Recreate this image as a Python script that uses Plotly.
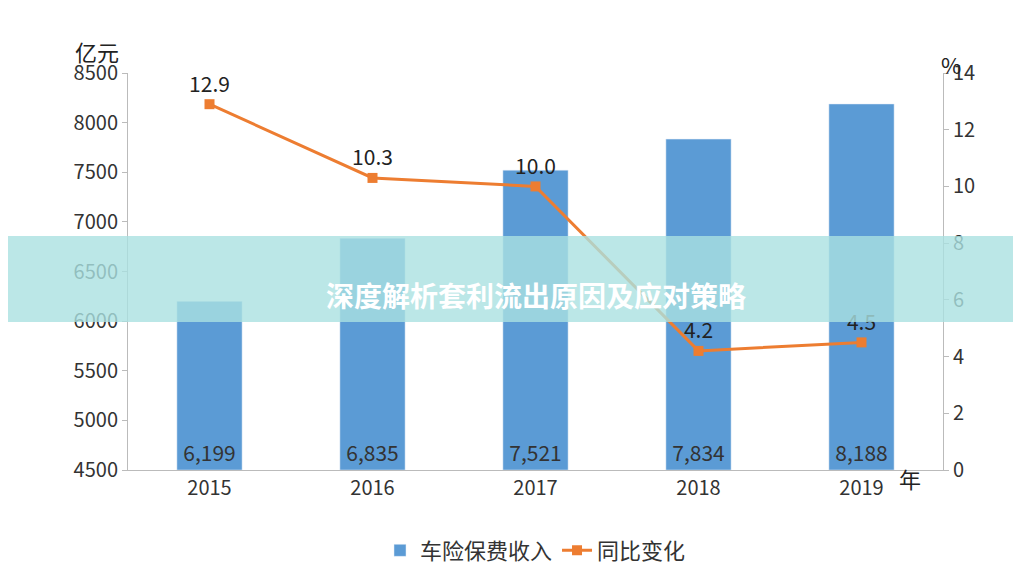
import plotly.graph_objects as go

years = ['2015', '2016', '2017', '2018', '2019']
premium = [6199, 6835, 7521, 7834, 8188]
premium_labels = ['6,199', '6,835', '7,521', '7,834', '8,188']
growth = [12.9, 10.3, 10.0, 4.2, 4.5]
growth_labels = ['12.9', '10.3', '10.0', '4.2', '4.5']
axis_base = 4500

font = "Noto Sans CJK SC, Noto Sans, sans-serif"

fig = go.Figure()
fig.add_trace(go.Bar(
    x=years, y=[p - axis_base for p in premium], base=axis_base,
    name='车险保费收入', marker_color='#5B9BD5',
    width=0.4, text=premium_labels, textposition='inside',
    insidetextanchor='start', textfont=dict(size=21, color='#333'),
    yaxis='y'))
fig.add_trace(go.Scatter(
    x=years, y=growth, name='同比变化', mode='lines+markers+text',
    line=dict(color='#ED7D31', width=3),
    marker=dict(symbol='square', size=10, color='#ED7D31'),
    text=growth_labels, textposition='top center',
    textfont=dict(size=21, color='#222'), yaxis='y2'))

L, R, T, B = 120, 86, 65, 106
fig.update_layout(
    width=1021, height=568,
    margin=dict(l=L, r=R, t=T, b=B, autoexpand=False),
    paper_bgcolor='white', plot_bgcolor='white',
    font=dict(family=font, size=20, color='#333'),
    xaxis=dict(showline=True, linecolor='#bbb', ticks='', tickfont=dict(size=20),
               automargin=False),
    yaxis=dict(range=[4500, 8500], dtick=500, showgrid=False, showline=True,
               linecolor='#bbb', ticks='outside', ticklen=5, tickcolor='#bbb',
               automargin=False),
    yaxis2=dict(range=[0, 14], dtick=2, overlaying='y', side='right',
                showgrid=False, showline=True, linecolor='#bbb',
                ticks='outside', ticklen=5, tickcolor='#bbb', automargin=False),
    legend=dict(orientation='h', x=0.5, xanchor='center', y=-0.15, yanchor='top',
                font=dict(size=22)),
)
pw, ph = 1021 - L - R, 568 - T - B
bottom = 568 - B
anns = []
for text, px_, py_ in [('亿元', 65, 25), ('%', 955, 38), ('年', 915, 488)]:
    anns.append(dict(text=text, x=(px_ - L) / pw, y=(bottom - py_) / ph,
                     xref='paper', yref='paper', showarrow=False,
                     font=dict(size=22, color='#222')))
anns.append(dict(text='<b>深度解析套利流出原因及应对策略</b>', x=0.5, y=(bottom - 287) / ph,
                 xref='paper', yref='paper', showarrow=False,
                 font=dict(size=28, color='white')))
fig.update_layout(annotations=anns)
fig.add_shape(type='rect', xref='paper', yref='paper',
              x0=-L / pw, x1=(1021 - L) / pw,
              y0=(bottom - 314) / ph, y1=(bottom - 228) / ph,
              fillcolor='rgba(170,225,225,0.8)', line=dict(width=0), layer='above')

fig.write_html("out.html")
